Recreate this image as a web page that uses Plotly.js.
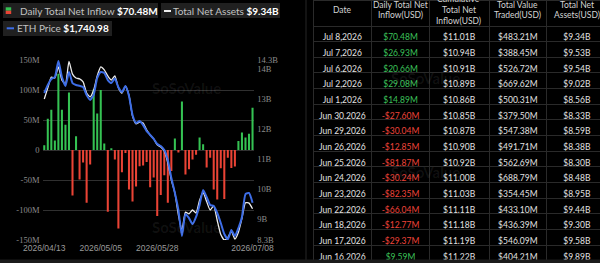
<!DOCTYPE html>
<html><head><meta charset="utf-8">
<script src="https://cdn.plot.ly/plotly-3.0.1.min.js"></script>
<style>html,body{margin:0;padding:0;background:#000;overflow:hidden;width:600px;height:263px}#chart{width:607px;height:263px}</style>
</head><body><div id="chart"></div>
<script>
// ---------- DATA ----------
const tradeDates = ['2026/04/13','2026/04/14','2026/04/15','2026/04/16','2026/04/17','2026/04/20','2026/04/21','2026/04/22','2026/04/23','2026/04/24','2026/04/27','2026/04/28','2026/04/29','2026/04/30',
'2026/05/01','2026/05/04','2026/05/05','2026/05/06','2026/05/07','2026/05/08','2026/05/11','2026/05/12','2026/05/13','2026/05/14','2026/05/15','2026/05/18','2026/05/19','2026/05/20','2026/05/21','2026/05/22','2026/05/26','2026/05/27','2026/05/28','2026/05/29',
'2026/06/01','2026/06/02','2026/06/03','2026/06/04','2026/06/05','2026/06/08','2026/06/09','2026/06/10','2026/06/11','2026/06/12','2026/06/15','2026/06/16','2026/06/17','2026/06/18','2026/06/22','2026/06/23','2026/06/24','2026/06/25','2026/06/26','2026/06/29','2026/06/30',
'2026/07/01','2026/07/02','2026/07/06','2026/07/07','2026/07/08'];
// Daily total net inflow, $M
const dailyNetInflow = [8, 52, 67, 16, 127, 67, 42, 96, -76, 23, -49, -21, -88, -24, 101, 61, 100, 11, -103, 3,
 -16, -131, -37, -5, -66, -86, -61, -27, -26, -20, -62, -46, -110, -75, -42, -88, -35, 19, -4, 81,
 -41, -32, -16, -8, 21, 9.59, -29.37, -12.77, -66.04, -82.35, -30.24, -81.87, -12.85, -30.04, -27.60, 14.89, 29.08, 20.66, 26.93, 70.48];
// Total net assets, $B
const totalNetAssets = [13.00, 13.37, 13.73, 13.70, 14.07, 13.63, 13.50, 14.25, 13.83, 13.70, 13.67, 13.57, 13.20, 13.07, 13.30, 13.77, 14.07, 13.97, 13.77, 13.63,
 13.77, 13.37, 13.20, 13.43, 13.13, 12.43, 12.17, 12.23, 12.20, 11.97, 11.80, 11.67, 11.47, 11.40, 11.27, 10.87, 10.30, 9.87, 9.13, 8.63,
 9.23, 9.17, 9.30, 9.20, 9.63, 9.89, 9.58, 9.30, 9.44, 8.95, 8.48, 8.30, 8.38, 8.59, 8.33, 8.56, 9.02, 9.54, 9.53, 9.34];
// ETH price, $
const ethPrice = [2655, 2722, 2772, 2788, 2922, 2788, 2713, 2830, 2738, 2722, 2715, 2705, 2638, 2597, 2640, 2780, 2830, 2822, 2763, 2738,
 2775, 2702, 2663, 2713, 2630, 2472, 2405, 2422, 2388, 2338, 2305, 2272, 2230, 2213, 2180, 2097, 1947, 1822, 1680, 1463,
 1647, 1613, 1563, 1622, 1722, 1847, 1788, 1722, 1713, 1655, 1572, 1480, 1435, 1513, 1463, 1530, 1622, 1813, 1822, 1740.98];
// table-only columns, newest first
const tableCumInflow = [11.01, 10.94, 10.91, 10.89, 10.86, 10.85, 10.87, 10.90, 10.92, 11.00, 11.03, 11.11, 11.18, 11.19, 11.22];
const tableValueTraded = [483.21, 388.45, 526.72, 669.62, 500.31, 379.50, 547.38, 491.71, 562.69, 688.79, 354.45, 433.10, 436.39, 546.09, 404.21];
const leftTicks = [-150, -100, -50, 0, 50, 100, 150];
const rightTicks = [8.3, 9, 10, 11, 12, 13, 14, 14.3];
const xTicks = ['2026/04/13', '2026/05/05', '2026/05/28', '2026/07/08'];
const headerLines = [['Date'], ['Daily Total Net', 'Inflow(USD)'], ['Cumulative', 'Total Net', 'Inflow(USD)'], ['Total Value', 'Traded(USD)'], ['Total Net', 'Assets(USD)']];

// ---------- STYLE / HELPERS ----------
const W = 607, H = 263;
const px = x => x / W, py = y => 1 - y / H;
const GREEN = '#35c253', RED = '#ea4335', BG = '#000', GRID = '#303030', LINE = '#2a2a2a';
const MONTHS = ['Jan','Feb','Mar','Apr','May','Jun','Jul','Aug','Sep','Oct','Nov','Dec'];
const NBSP = '\u00a0';
const fmtDate = s => { const [y, m, d] = s.split('/'); return MONTHS[+m - 1] + NBSP + (+d) + ',' + y; };
const fmtM = v => (v < 0 ? '-$' : '$') + Math.abs(v).toFixed(2) + 'M';
const fmtB = v => '$' + v.toFixed(2) + 'B';
const last = a => a[a.length - 1];

const barColors = dailyNetInflow.map(v => v >= 0 ? GREEN : RED);

// table rows (newest first)
const nRows = tableCumInflow.length;
const idx = [];
for (let i = tradeDates.length - 1; i >= tradeDates.length - nRows; i--) idx.push(i);
const colDate = idx.map(i => fmtDate(tradeDates[i]));
const colInflow = idx.map(i => fmtM(dailyNetInflow[i]));
const colCum = tableCumInflow.map(fmtB);
const colTraded = tableValueTraded.map(v => '$' + v.toFixed(2) + 'M');
const colTNA = idx.map(i => fmtB(totalNetAssets[i]));
const inflowColors = idx.map(i => dailyNetInflow[i] >= 0 ? '#3cc35a' : '#f0443a');
const txt = idx.map(() => '#e2e2e2');

const traces = [
  {type: 'bar', x: tradeDates, y: dailyNetInflow, marker: {color: barColors}, hoverinfo: 'none'},
  {type: 'scatter', mode: 'lines', x: tradeDates, y: ethPrice, yaxis: 'y3',
   line: {color: '#3d6de6', width: 2, shape: 'spline', smoothing: 0.5}, hoverinfo: 'none'},
  {type: 'scatter', mode: 'lines', x: tradeDates, y: totalNetAssets, yaxis: 'y2',
   line: {color: '#ececec', width: 1.3, shape: 'spline', smoothing: 0.5}, hoverinfo: 'none'},
  {type: 'table', domain: {x: [px(313), px(607)], y: [0, 1]},
   columnwidth: [58.7, 57.6, 59.7, 57.7, 60.3],
   header: {values: ['', '', '', '', ''], height: 26, fill: {color: BG}, line: {color: LINE, width: 1}},
   cells: {values: [colDate, colInflow, colCum, colTraded, colTNA], height: 15.66, align: 'center',
     fill: {color: BG}, line: {color: LINE, width: 1},
     font: {family: 'Lato', size: 8.5, color: [txt, inflowColors, txt, txt, txt]}}}
];

const serif = {family: 'Liberation Serif', size: 8.5, color: '#8c8c8c'};
const shapes = [
  // legend pills
  {type: 'rect', xref: 'paper', yref: 'paper', x0: px(3), x1: px(158), y0: py(3), y1: py(18), fillcolor: '#202020', line: {width: 0}, layer: 'below'},
  {type: 'rect', xref: 'paper', yref: 'paper', x0: px(161), x1: px(280), y0: py(3), y1: py(18), fillcolor: '#202020', line: {width: 0}, layer: 'below'},
  {type: 'rect', xref: 'paper', yref: 'paper', x0: px(3), x1: px(112), y0: py(21), y1: py(36), fillcolor: '#202020', line: {width: 0}, layer: 'below'},
  // legend icons
  {type: 'rect', xref: 'paper', yref: 'paper', x0: px(5.7), x1: px(11.2), y0: py(7.3), y1: py(10.7), fillcolor: GREEN, line: {width: 0}},
  {type: 'rect', xref: 'paper', yref: 'paper', x0: px(5.7), x1: px(11.2), y0: py(10.7), y1: py(14), fillcolor: RED, line: {width: 0}},
  {type: 'rect', xref: 'paper', yref: 'paper', x0: px(164), x1: px(171), y0: py(10), y1: py(12), fillcolor: '#eeeeee', line: {width: 0}},
  {type: 'rect', xref: 'paper', yref: 'paper', x0: px(6.7), x1: px(14), y0: py(27.3), y1: py(29.3), fillcolor: '#3d6de6', line: {width: 0}},
  // panel divider and bottom band
  {type: 'line', xref: 'paper', yref: 'paper', x0: px(306), x1: px(306), y0: 0, y1: 1, line: {color: '#262626', width: 1}},
  {type: 'rect', xref: 'paper', yref: 'paper', x0: 0, x1: 1, y0: 0, y1: py(259.5), fillcolor: '#1b1b1b', line: {width: 0}}
];

const legendFont = {family: 'Lato', size: 10, color: '#ffffff'};
const ann = [
  {xref: 'paper', yref: 'paper', x: px(18), y: py(11), xanchor: 'left', yanchor: 'middle', showarrow: false, font: legendFont,
   text: '<span style="color:#c2c2c2">Daily Total Net Inflow</span> <b>' + fmtM(last(dailyNetInflow)) + '</b>'},
  {xref: 'paper', yref: 'paper', x: px(171), y: py(11), xanchor: 'left', yanchor: 'middle', showarrow: false, font: legendFont,
   text: '<span style="color:#c2c2c2">Total Net Assets</span> <b>' + fmtB(last(totalNetAssets)) + '</b>'},
  {xref: 'paper', yref: 'paper', x: px(14.5), y: py(28.5), xanchor: 'left', yanchor: 'middle', showarrow: false, font: legendFont,
   text: '<span style="color:#c2c2c2">ETH Price</span> <b>$' + last(ethPrice).toLocaleString('en-US', {minimumFractionDigits: 2, maximumFractionDigits: 2}) + '</b>'}
];
// watermarks
[[150, 88], [150, 238], [462, 67], [462, 172]].forEach(([x, y]) => ann.push({xref: 'paper', yref: 'paper', x: px(x), y: py(y),
  showarrow: false, text: '<b>SoSoValue</b>', font: {family: 'Lato', size: 15, color: 'rgba(255,255,255,0.07)'}}));
// table header text
const colCenters = [342, 400.5, 459, 517.5, 577];
const lineYs = {1: [10], 2: [5, 15.3], 3: [-0.5, 10, 20.5]};
headerLines.forEach((lines, c) => lines.forEach((t, k) => ann.push({xref: 'paper', yref: 'paper', x: px(colCenters[c]),
  y: py(lineYs[lines.length][k]), xanchor: 'center', yanchor: 'middle', showarrow: false, text: t,
  font: {family: 'Lato', size: 8.5, color: '#d4d4d4'}})));

const layout = {
  width: W, height: H, autosize: false, margin: {l: 0, r: 0, t: 0, b: 0, pad: 0},
  paper_bgcolor: BG, plot_bgcolor: BG, showlegend: false, bargap: 0.42,
  xaxis: {type: 'category', domain: [px(42.5), px(254.3)], range: [-0.5, tradeDates.length - 0.5],
    tickmode: 'array', tickvals: xTicks, ticktext: xTicks, showgrid: false, zeroline: false, showline: false, ticks: '',
    tickfont: {family: 'Liberation Sans', size: 8.5, color: '#9a9a9a'}, ticklabelstandoff: 1},
  yaxis: {domain: [py(240), py(60)], range: [-150, 150], tickmode: 'array', tickvals: leftTicks,
    ticktext: leftTicks.map(v => v === 0 ? '0' : (v + 'M')), showgrid: true, gridcolor: GRID, gridwidth: 1,
    zeroline: false, showline: false, ticks: '', tickfont: serif, ticklabelstandoff: 2},
  yaxis2: {overlaying: 'y', side: 'right', range: [8.3, 14.3], tickmode: 'array', tickvals: rightTicks,
    ticktext: rightTicks.map(v => v + 'B'), showgrid: false, zeroline: false, showline: false, ticks: '', tickfont: serif, ticklabelstandoff: 2},
  yaxis3: {overlaying: 'y', range: [1430, 2930], visible: false},
  shapes: shapes, annotations: ann
};
Plotly.newPlot('chart', traces, layout, {displayModeBar: false, staticPlot: true});
</script></body></html>
